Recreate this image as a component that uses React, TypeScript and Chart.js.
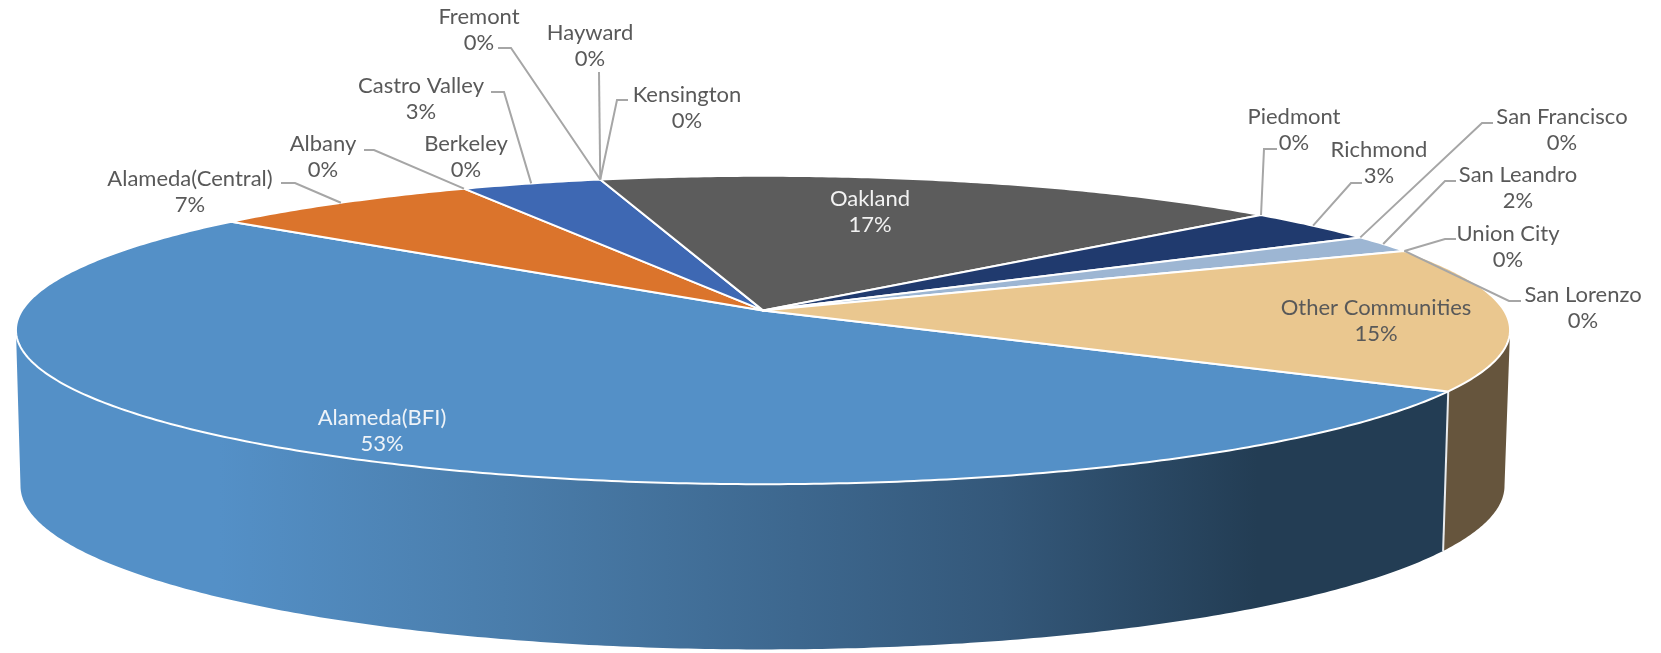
import React, { useEffect, useRef } from "react";
import { Chart, ArcElement, registerables } from "chart.js";

Chart.register(...registerables);

const categories = ["Alameda(BFI)", "Alameda(Central)", "Albany", "Berkeley", "Castro Valley", "Fremont", "Hayward", "Kensington", "Oakland", "Piedmont", "Richmond", "San Francisco", "San Leandro", "San Lorenzo", "Union City", "Other Communities"];
const shares = [52.55, 6.7, 0, 0, 3.45, 0, 0, 0, 17, 0, 3.4, 0, 1.8, 0, 0, 15.1];
const sliceColors = ["#5490C7", "#DB742C", "#A5A5A5", "#FFC000", "#3E68B3", "#70AD47", "#264478", "#9E480E", "#5C5C5C", "#997300", "#203A6E", "#43682B", "#9DB6D3", "#F1975A", "#B7B7B7", "#EAC78F"];

// Label placement: text centre (x, y of the first line), and leader-line elbow points.
const labelLayout: { x: number; y: number; color?: string; elbow?: number[][] }[] = [
  { x: 382, y: 418, color: "#EEF3F8" },
  { x: 190, y: 179, elbow: [[281, 183], [295, 183]] },
  { x: 323, y: 144, elbow: [[364, 150], [374, 150]] },
  { x: 466, y: 144 },
  { x: 421, y: 86, elbow: [[491, 92], [504, 92]] },
  { x: 479, y: 17, elbow: [[498, 48], [511, 48]] },
  { x: 590, y: 33, elbow: [[599, 72]] },
  { x: 687, y: 95, elbow: [[628, 100], [617, 100]] },
  { x: 870, y: 199, color: "#F2F2F2" },
  { x: 1294, y: 117, elbow: [[1277, 149], [1264, 149]] },
  { x: 1379, y: 150, elbow: [[1362, 183], [1351, 183]] },
  { x: 1562, y: 117, elbow: [[1493, 123], [1482, 123]] },
  { x: 1518, y: 175, elbow: [[1456, 181], [1445, 181]] },
  { x: 1583, y: 295, elbow: [[1521, 301], [1509, 301]] },
  { x: 1508, y: 234, elbow: [[1456, 239], [1445, 239]] },
  { x: 1376, y: 308, color: "#595959" },
];

const TOP = { cx: 763, cy: 310.4, a: 741, b: 151.7 };
const BOTTOM = { cx: 762.5, cy: 465, a: 736, b: 161 };
const K = 0.127;
const WALL_LEFT = Math.PI - Math.asin(K);
const WALL_RIGHT = Math.asin(K);

type Face = typeof TOP;
const project = (f: Face, t: number): [number, number] => {
  const u = Math.cos(t), v = Math.sin(t), w = 1 - K * v;
  return [f.cx + (f.a * u) / w, f.cy + (f.b * v) / w];
};
const arcPoints = (f: Face, t0: number, t1: number): [number, number][] => {
  const n = Math.max(2, Math.ceil(Math.abs(t1 - t0) / 0.01));
  const out: [number, number][] = [];
  for (let i = 0; i <= n; i++) out.push(project(f, t0 + ((t1 - t0) * i) / n));
  return out;
};

// Slices stay Chart.js arc elements, drawn on a tilted (perspective) disc.
(ArcElement.prototype as any).draw = function (ctx: CanvasRenderingContext2D) {
  const { startAngle, endAngle } = this.getProps(["startAngle", "endAngle"]);
  if (endAngle - startAngle < 1e-4) return;
  const o = this.options;
  ctx.save();
  ctx.beginPath();
  ctx.moveTo(TOP.cx, TOP.cy);
  arcPoints(TOP, startAngle, endAngle).forEach(([x, y]) => ctx.lineTo(x, y));
  ctx.closePath();
  ctx.fillStyle = o.backgroundColor;
  ctx.fill();
  ctx.strokeStyle = o.borderColor;
  ctx.lineWidth = o.borderWidth;
  ctx.lineJoin = "round";
  ctx.stroke();
  ctx.restore();
};

const wallPlugin = {
  id: "wall",
  beforeDatasetsDraw(chart: any) {
    const ctx: CanvasRenderingContext2D = chart.ctx;
    const arcs = chart.getDatasetMeta(0).data;
    const cut = arcs[0].getProps(["startAngle", "endAngle"]).startAngle;

    const wall = (t0: number, t1: number, fill: any) => {
      ctx.beginPath();
      const a = arcPoints(TOP, t0, t1), b = arcPoints(BOTTOM, t1, t0);
      a.concat(b).forEach(([x, y], i) => (i ? ctx.lineTo(x, y) : ctx.moveTo(x, y)));
      ctx.closePath();
      ctx.fillStyle = fill;
      ctx.fill();
    };
    wall(WALL_RIGHT, cut, "#66553D");
    const g = ctx.createLinearGradient(20, 0, 1442, 0);
    g.addColorStop(0, "#5490C7");
    g.addColorStop(0.14, "#5490C7");
    g.addColorStop(0.34, "#4A7DAB");
    g.addColorStop(0.69, "#34587A");
    g.addColorStop(0.87, "#233D54");
    g.addColorStop(1, "#233D54");
    wall(cut, WALL_LEFT, g);

    ctx.save();
    ctx.strokeStyle = "#E8EBEE";
    ctx.lineWidth = 2;
    const [x0, y0] = project(TOP, cut), [x1, y1] = project(BOTTOM, cut);
    ctx.beginPath();
    ctx.moveTo(x0, y0);
    ctx.lineTo(x1, y1);
    ctx.stroke();
    ctx.restore();
  },
  afterDatasetsDraw(chart: any) {
    const ctx: CanvasRenderingContext2D = chart.ctx;
    const arcs = chart.getDatasetMeta(0).data;
    const total = shares.reduce((s, v) => s + v, 0);
    ctx.save();
    ctx.strokeStyle = "#A6A6A6";
    ctx.lineWidth = 2;
    labelLayout.forEach((l, i) => {
      if (!l.elbow) return;
      const { startAngle, endAngle } = arcs[i].getProps(["startAngle", "endAngle"]);
      const [px, py] = project(TOP, (startAngle + endAngle) / 2);
      ctx.beginPath();
      l.elbow.forEach(([x, y], j) => (j ? ctx.lineTo(x, y) : ctx.moveTo(x, y)));
      ctx.lineTo(px, py);
      ctx.stroke();
    });
    ctx.font = '22px Lato, "Open Sans", sans-serif';
    ctx.textAlign = "center";
    ctx.textBaseline = "middle";
    labelLayout.forEach((l, i) => {
      ctx.fillStyle = l.color ?? "#595959";
      ctx.fillText(categories[i], l.x, l.y);
      ctx.fillText(`${Math.round((shares[i] / total) * 100)}%`, l.x, l.y + 26);
    });
    ctx.restore();
  },
};

export default function App() {
  const ref = useRef<HTMLCanvasElement>(null);
  useEffect(() => {
    const chart = new Chart(ref.current!, {
      type: "pie",
      data: {
        labels: categories,
        datasets: [{ data: shares, backgroundColor: sliceColors, borderColor: "#FFFFFF", borderWidth: 2 }],
      },
      options: {
        animation: false,
        responsive: false,
        rotation: 120,
        plugins: { legend: { display: false }, tooltip: { enabled: false } },
      },
      plugins: [wallPlugin],
    } as any);
    return () => chart.destroy();
  }, []);
  return (
    <div style={{ position: "absolute", left: 0, top: 0, width: 1661, height: 653, background: "#fff" }}>
      <canvas ref={ref} width={1661} height={653} style={{ display: "block" }} />
    </div>
  );
}
